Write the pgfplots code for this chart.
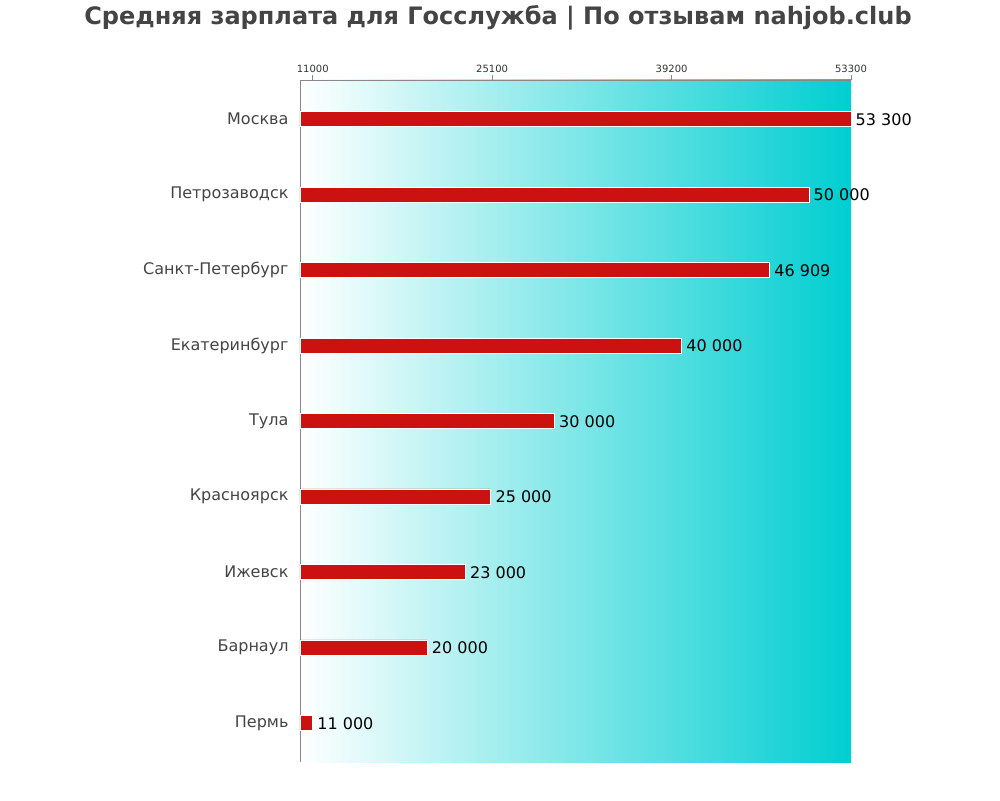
\documentclass[border=0pt]{standalone}
\usepackage{pgfplots}
\pgfplotsset{compat=1.18}
\usepackage{fontspec}
\setmainfont{DejaVu Sans}
\definecolor{barred}{HTML}{CC1111}
\definecolor{tcyan}{HTML}{00CED1}
\definecolor{txtgray}{HTML}{444444}
\definecolor{axgray}{HTML}{888888}
\begin{document}
\begin{tikzpicture}
\path[use as bounding box] (-300pt,-38pt) rectangle (700pt,762pt);
\begin{axis}[
  at={(0pt,0pt)}, anchor=south west,
  scale only axis, width=551pt, height=682pt,
  xmin=10000, xmax=53300,
  ymin=-0.517, ymax=8.517, y dir=reverse,
  axis x line=top, axis y line=left,
  axis line style={-, axgray, line width=0.8pt},
  axis background/.style={left color=white, right color=tcyan},
  scaled x ticks=false,
  xtick={11000,25100,39200,53300},
  xticklabels={11000,25100,39200,53300},
  x tick label style={font=\fontsize{10}{12}\selectfont, text=black!80, yshift=-1pt},
  xtick style={axgray, line width=0.8pt},
  tick align=outside, major tick length=5pt,
  ytick={0,...,8},
  yticklabels={Москва,Петрозаводск,Санкт-Петербург,Екатеринбург,Тула,Красноярск,Ижевск,Барнаул,Пермь},
  y tick label style={font=\fontsize{16}{19}\selectfont, text=txtgray, xshift=-3pt},
  ytick style={draw=none},
  xbar, bar width=15pt,
  point meta=explicit symbolic,
  nodes near coords,
  nodes near coords style={font=\fontsize{16}{19}\selectfont, text=black, anchor=west, xshift=1pt, yshift=-0.5pt},
  clip=false,
]
\addplot[fill=barred, draw=white, line width=0.8pt] coordinates {
 (53300,0) [53 300]
 (50000,1) [50 000]
 (46909,2) [46 909]
 (40000,3) [40 000]
 (30000,4) [30 000]
 (25000,5) [25 000]
 (23000,6) [23 000]
 (20000,7) [20 000]
 (11000,8) [11 000]
};
\end{axis}
\node[font=\bfseries\fontsize{24}{29}\selectfont, text=txtgray] at (198pt,744pt) {Средняя зарплата для Госслужба | По отзывам nahjob.club};
\end{tikzpicture}
\end{document}
